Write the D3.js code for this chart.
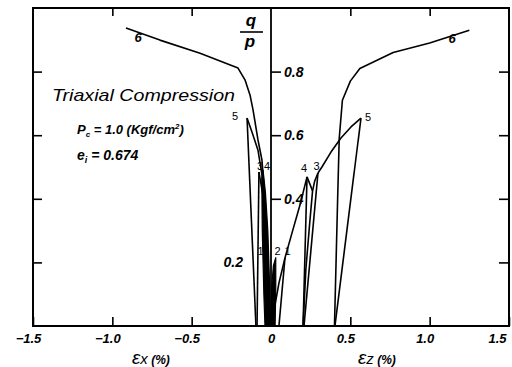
<!DOCTYPE html>
<html>
<head>
<meta charset="utf-8">
<script src="https://cdn.jsdelivr.net/npm/d3@7"></script>
<style>
  body { margin: 0; background: #fff; }
  svg text { font-family: "Liberation Sans", Arial, sans-serif; fill: #000; }
</style>
</head>
<body>
<svg id="chart" width="512" height="367"></svg>
<script>
// strain (%) on x: left side is εx, right side is εz ; q/p on y
const xTicks = [-1.5, -1.0, -0.5, 0, 0.5, 1.0, 1.5];
const xTickLabels = ["−1.5", "−1.0", "−0.5", "0", "0.5", "1.0", "1.5"];
const yTicks = [0.2, 0.4, 0.6, 0.8];
const yTickLabels = ["0.2", "0.4", "0.6", "0.8"];

// εx side
const curve6Left = [[-0.013, 0], [-0.025, 0.208], [-0.038, 0.396], [-0.057, 0.522], [-0.082, 0.585],
  [-0.113, 0.679], [-0.132, 0.726], [-0.164, 0.774], [-0.208, 0.811], [-0.447, 0.858], [-0.700, 0.899], [-0.914, 0.937]];
const loadLeft5 = [[-0.019, 0], [-0.032, 0.208], [-0.044, 0.365], [-0.057, 0.475], [-0.082, 0.553], [-0.120, 0.610], [-0.151, 0.654]];
const unloadLeft5 = [[-0.151, 0.654], [-0.095, 0]];
const loadLeft3 = [[-0.006, 0], [-0.02, 0.2], [-0.04, 0.38], [-0.076, 0.484]];
const unloadLeft3 = [[-0.076, 0.484], [-0.088, 0]];
const loopLeft4 = [[-0.004, 0], [-0.01, 0.15], [-0.02, 0.30], [-0.035, 0.42], [-0.05, 0.49],
  [-0.058, 0.46], [-0.055, 0.30], [-0.045, 0.10], [-0.038, 0]];

// εz side
const loadRight4 = [[0.013, 0], [0.025, 0.066], [0.050, 0.135], [0.088, 0.214], [0.132, 0.292], [0.183, 0.381], [0.227, 0.469]];
const unloadRight1 = [[0.088, 0.214], [0.05, 0]];
const loopRight2 = [[0.0, 0], [0.004, 0.12], [0.015, 0.19], [0.03, 0.215], [0.03, 0.12], [0.026, 0]];
const unloadRight4 = [[0.227, 0.469], [0.202, 0]];
const linkRight43 = [[0.227, 0.469], [0.262, 0.425]];
const loadRight3 = [[0.202, 0], [0.22, 0.18], [0.245, 0.33], [0.262, 0.425], [0.275, 0.455], [0.296, 0.481]];
const unloadRight3 = [[0.296, 0.481], [0.208, 0]];
const loadRight5 = [[0.296, 0.481], [0.321, 0.50], [0.378, 0.547], [0.441, 0.591], [0.504, 0.626], [0.567, 0.654]];
const unloadRight5 = [[0.567, 0.654], [0.403, 0]];
const curve6Right = [[0.40, 0], [0.42, 0.40], [0.43, 0.59], [0.45, 0.71], [0.50, 0.77], [0.56, 0.81], [0.77, 0.86], [1.00, 0.89], [1.25, 0.93]];

const curveLabels = [
  { t: "6", x: -0.838, y: 0.906, hand: true },
  { t: "6", x: 1.141, y: 0.903, hand: true },
  { t: "5", x: -0.227, y: 0.66 },
  { t: "5", x: 0.611, y: 0.657 },
  { t: "4", x: 0.208, y: 0.495 },
  { t: "3", x: 0.287, y: 0.503 },
  { t: "3", x: -0.069, y: 0.503 },
  { t: "4", x: -0.025, y: 0.503 },
  { t: "1", x: -0.066, y: 0.236 },
  { t: "2", x: 0.041, y: 0.236 },
  { t: "1", x: 0.104, y: 0.236 }
];

const svg = d3.select('#chart');
const x = d3.scaleLinear().domain([-1.5, 1.5]).range([33, 509]);
const y = d3.scaleLinear().domain([0, 1]).range([326, 8]);

const line = d3.line().x(d => x(d[0])).y(d => y(d[1]));

// frame
svg.append('rect')
  .attr('x', x(-1.5)).attr('y', y(1))
  .attr('width', x(1.5) - x(-1.5)).attr('height', y(0) - y(1))
  .attr('fill', 'none').attr('stroke', '#000').attr('stroke-width', 2);

// bottom axis with inward ticks
const xAxis = d3.axisBottom(x).tickValues(xTicks)
  .tickFormat((d, i) => xTickLabels[i]).tickSizeInner(-9).tickSizeOuter(0).tickPadding(8);
const gx = svg.append('g').attr('transform', `translate(0,${y(0)})`).call(xAxis);
gx.select('.domain').remove();
gx.selectAll('line').attr('stroke-width', 1.6);
gx.selectAll('text')
  .attr('dx', d => d === 0 ? 0 : (d === 1.5 ? -12 : -5))
  .style('font-size', '13px').style('font-style', 'italic').style('font-weight', 'bold');

// top ticks
const gt = svg.append('g').attr('transform', `translate(0,${y(1)})`)
  .call(d3.axisTop(x).tickValues([-1.0, -0.5, 0.5, 1.0]).tickFormat('').tickSizeInner(-8).tickSizeOuter(0));
gt.select('.domain').remove();
gt.selectAll('line').attr('stroke-width', 1.6);

// left and right border ticks
const gl = svg.append('g').attr('transform', `translate(${x(-1.5)},0)`)
  .call(d3.axisLeft(y).tickValues(yTicks).tickFormat('').tickSizeInner(-9).tickSizeOuter(0));
gl.select('.domain').remove();
gl.selectAll('line').attr('stroke-width', 1.6);
const gr = svg.append('g').attr('transform', `translate(${x(1.5)},0)`)
  .call(d3.axisRight(y).tickValues(yTicks).tickFormat('').tickSizeInner(-10).tickSizeOuter(0));
gr.select('.domain').remove();
gr.selectAll('line').attr('stroke-width', 1.6);

// centre axis q/p
const gc = svg.append('g').attr('transform', `translate(${x(0)},0)`)
  .call(d3.axisRight(y).tickValues(yTicks).tickFormat((d, i) => yTickLabels[i]).tickSizeInner(10).tickSizeOuter(0).tickPadding(3));
gc.select('.domain').attr('d', `M0,${y(0)}V${y(1)}`).attr('stroke-width', 1.8);
gc.selectAll('line').attr('stroke-width', 1.6);
gc.selectAll('text')
  .style('font-size', '14px').style('font-style', 'italic').style('font-weight', 'bold');
gc.selectAll('.tick').filter(d => d === 0.2).each(function () {
  d3.select(this).select('line').remove();
  d3.select(this).select('text').attr('x', -28).attr('text-anchor', 'end');
});

// q/p label
const qp = svg.append('g').attr('transform', `translate(${x(0) - 20},0)`);
qp.append('text').attr('x', 0).attr('y', 26).attr('text-anchor', 'middle')
  .style('font-size', '17px').style('font-style', 'italic').style('font-weight', 'bold').text('q');
qp.append('line').attr('x1', -11).attr('x2', 12).attr('y1', 32).attr('y2', 32)
  .attr('stroke', '#000').attr('stroke-width', 1.6);
qp.append('text').attr('x', -1).attr('y', 47).attr('text-anchor', 'middle')
  .style('font-size', '17px').style('font-style', 'italic').style('font-weight', 'bold').text('p');

// loops that are packed into solid black near zero
[loopLeft4, loopRight2].forEach(d => {
  svg.append('path').attr('d', line(d) + 'Z')
    .attr('fill', '#000').attr('stroke', '#000').attr('stroke-width', 1.2).attr('stroke-linejoin', 'round');
});

// strain curves
const curves = [curve6Left, loadLeft5, unloadLeft5, loadLeft3, unloadLeft3,
  loadRight4, unloadRight1, unloadRight4, linkRight43, loadRight3, unloadRight3, loadRight5, unloadRight5, curve6Right];
svg.selectAll('.curve').data(curves).enter().append('path')
  .attr('class', 'curve')
  .attr('d', line)
  .attr('fill', 'none').attr('stroke', '#000').attr('stroke-width', 1.6)
  .attr('stroke-linejoin', 'round');

// stage numbers
svg.selectAll('.clabel').data(curveLabels).enter().append('text')
  .attr('class', 'clabel')
  .attr('x', d => x(d.x)).attr('y', d => y(d.y))
  .attr('dy', '0.35em').attr('text-anchor', 'middle')
  .style('font-size', d => d.hand ? '13px' : '11px')
  .style('font-style', d => d.hand ? 'italic' : 'normal')
  .style('font-weight', d => d.hand ? 'bold' : 'normal')
  .text(d => d.t);

// test conditions
svg.append('text').attr('x', 52).attr('y', 101)
  .attr('textLength', 183).attr('lengthAdjust', 'spacingAndGlyphs')
  .style('font-size', '17px').style('font-style', 'italic')
  .text('Triaxial Compression');
const pc = svg.append('text').attr('x', 77).attr('y', 134)
  .style('font-size', '13px').style('font-style', 'italic').style('font-weight', 'bold');
pc.append('tspan').text('P');
pc.append('tspan').attr('dy', 3).style('font-size', '8px').text('c');
pc.append('tspan').attr('dy', -3).text(' = 1.0 (Kgf/cm');
pc.append('tspan').attr('dy', -5).style('font-size', '8px').text('2');
pc.append('tspan').attr('dy', 5).text(')');
const ei = svg.append('text').attr('x', 77).attr('y', 160)
  .style('font-size', '14px').style('font-style', 'italic').style('font-weight', 'bold');
ei.append('tspan').text('e');
ei.append('tspan').attr('dy', 3).style('font-size', '9px').text('i');
ei.append('tspan').attr('dy', -3).text(' = 0.674');

// axis titles
[{ t: 'ε', s: 'x', cx: 132 }, { t: 'ε', s: 'z', cx: 358 }].forEach(a => {
  const tt = svg.append('text').attr('x', a.cx).attr('y', 364)
    .style('font-style', 'italic');
  tt.append('tspan').style('font-size', '19px').text(a.t);
  tt.append('tspan').style('font-size', '15px').text(a.s);
  tt.append('tspan').style('font-size', '12px').style('font-weight', 'bold').text(' (%)');
});
</script>
</body>
</html>
